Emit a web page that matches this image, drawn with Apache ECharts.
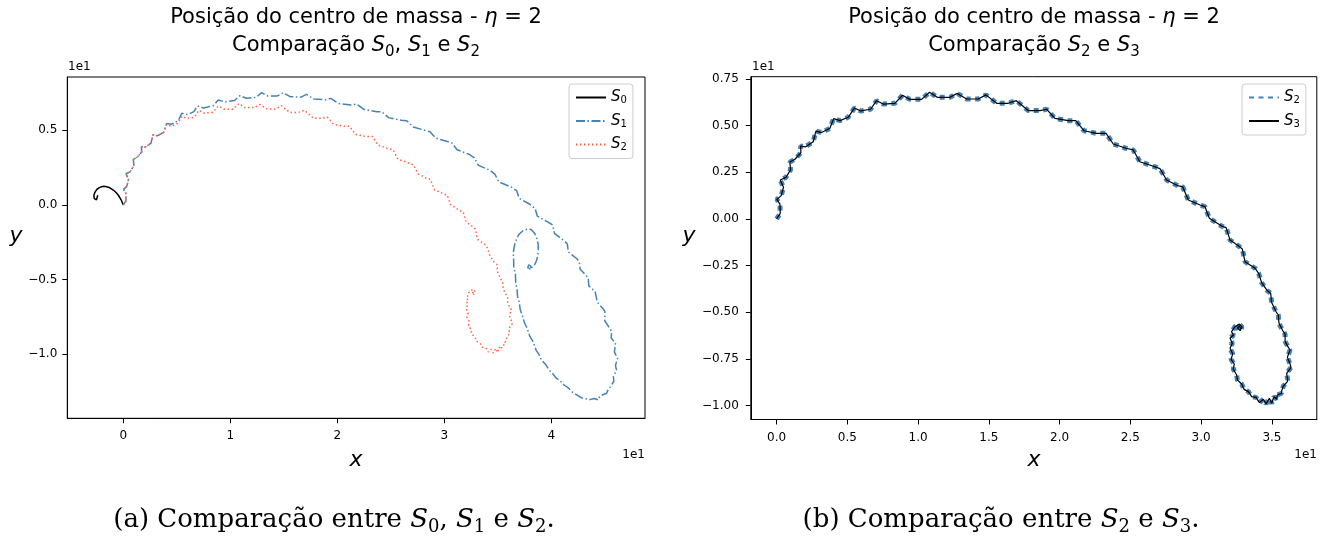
<!DOCTYPE html>
<html>
<head>
<meta charset="utf-8">
<script src="https://cdn.jsdelivr.net/npm/echarts@6/dist/echarts.min.js"></script>
<style>
html,body{margin:0;padding:0;background:#fff;}
#chart{width:1329px;height:538px;}
</style>
</head>
<body>
<div id="chart"></div>
<script>
// ---- Data (values in units of 1e1) ----
const s0Points = [
  [0,0],[-0.02,0.035],[-0.047,0.067],[-0.07,0.085],[-0.093,0.100],[-0.125,0.115],
  [-0.156,0.122],[-0.18,0.125],[-0.202,0.123],[-0.228,0.115],[-0.249,0.103],
  [-0.265,0.085],[-0.274,0.065],[-0.272,0.045],[-0.262,0.033],[-0.25,0.035],
  [-0.24,0.048],[-0.238,0.065]
];
const s1Points = [
  [0,0],[0.026,0.030],[0.024,0.080],
  [0.002,0.105],[0.033,0.125],[0.049,0.170],
  [0.026,0.209],[0.066,0.223],[0.099,0.263],
  [0.094,0.305],[0.130,0.320],[0.172,0.355],
  [0.170,0.391],[0.203,0.386],[0.259,0.414],
  [0.278,0.471],[0.318,0.463],[0.377,0.486],
  [0.405,0.545],[0.45,0.540],[0.515,0.565],
  [0.546,0.614],[0.60,0.605],[0.66,0.625],
  [0.692,0.663],[0.75,0.650],[0.84,0.665],
  [0.888,0.703],[0.95,0.690],[1.04,0.700],
  [1.091,0.732],[1.15,0.715],[1.24,0.720],
  [1.293,0.752],[1.35,0.730],[1.44,0.730],
  [1.495,0.752],[1.56,0.725],[1.66,0.722],
  [1.714,0.741],[1.78,0.710],[1.89,0.705],
  [1.940,0.714],[2.01,0.680],[2.13,0.670],
  [2.181,0.676],[2.25,0.640],[2.37,0.625],
  [2.415,0.625],[2.48,0.585],[2.60,0.567],
  [2.649,0.564],[2.71,0.522],[2.82,0.500],
  [2.866,0.491],[2.92,0.448],[3.03,0.425],
  [3.069,0.417],[3.12,0.370],[3.23,0.340],
  [3.278,0.317],[3.32,0.265],[3.43,0.232],
  [3.474,0.205],[3.51,0.155],[3.63,0.118],
  [3.677,0.096],[3.70,0.045],[3.80,0.005],
  [3.848,-0.022],[3.87,-0.075],[3.97,-0.115],
  [4.013,-0.134],[4.03,-0.190],[4.12,-0.240],
  [4.150,-0.261],[4.16,-0.315],[4.24,-0.360],
  [4.262,-0.379],[4.27,-0.430],[4.33,-0.475],
  [4.346,-0.491],[4.35,-0.540],[4.41,-0.580],
  [4.424,-0.591],[4.43,-0.650],[4.49,-0.700],
  [4.502,-0.714],[4.50,-0.775],[4.55,-0.830],
  [4.564,-0.848],[4.56,-0.890],[4.60,-0.925],
  [4.611,-0.937],[4.59,-0.985],[4.62,-1.025],
  [4.626,-1.037],[4.60,-1.075],[4.61,-1.105],
  [4.611,-1.116],[4.58,-1.150],[4.585,-1.180],
  [4.586,-1.193],[4.55,-1.220],[4.525,-1.245],
  [4.518,-1.260],[4.48,-1.270],[4.445,-1.290],
  [4.439,-1.305],[4.40,-1.295],[4.36,-1.303],
  [4.346,-1.316],[4.31,-1.295],[4.28,-1.290],
  [4.268,-1.301],[4.235,-1.270],[4.20,-1.255],
  [4.191,-1.265],[4.16,-1.225],[4.12,-1.205],
  [4.112,-1.216],[4.08,-1.175],[4.045,-1.158],
  [4.035,-1.167],[4.01,-1.125],[3.98,-1.105],
  [3.972,-1.116],[3.95,-1.070],[3.91,-1.040],
  [3.901,-1.049],[3.885,-1.000],[3.86,-0.975],
  [3.848,-0.982],[3.83,-0.915],[3.80,-0.880],
  [3.785,-0.881],[3.775,-0.825],[3.75,-0.790],
  [3.738,-0.792],[3.73,-0.740],[3.71,-0.700],
  [3.701,-0.703],[3.70,-0.650],[3.685,-0.612],
  [3.677,-0.614],[3.68,-0.560],[3.668,-0.522],
  [3.661,-0.524],[3.665,-0.460],[3.65,-0.420],
  [3.648,-0.360],[3.645,-0.323],[3.652,-0.285],[3.661,-0.256],[3.68,-0.22],
  [3.701,-0.194],[3.735,-0.172],[3.770,-0.163],[3.795,-0.160],[3.817,-0.167],
  [3.845,-0.19],[3.864,-0.223],[3.877,-0.26],[3.879,-0.301],[3.875,-0.335],
  [3.864,-0.368],[3.848,-0.395],[3.826,-0.413],[3.805,-0.425],[3.794,-0.430],
  [3.78,-0.42],[3.79,-0.40],[3.81,-0.41],[3.80,-0.435],[3.785,-0.425],[3.795,-0.415]
];
const s2Points = [
  [0,0],[0.026,0.030],[0.024,0.080],
  [0.002,0.105],[0.033,0.125],[0.049,0.170],
  [0.026,0.209],[0.066,0.223],[0.099,0.263],
  [0.094,0.305],[0.130,0.320],[0.172,0.355],
  [0.170,0.391],[0.203,0.386],[0.259,0.414],
  [0.278,0.471],[0.318,0.463],[0.377,0.486],
  [0.403,0.538],[0.448,0.527],[0.506,0.545],
  [0.551,0.595],[0.594,0.579],[0.664,0.588],
  [0.707,0.634],[0.754,0.616],[0.836,0.620],
  [0.890,0.663],[0.942,0.641],[1.025,0.641],
  [1.081,0.679],[1.135,0.652],[1.225,0.652],
  [1.277,0.673],[1.343,0.643],[1.425,0.643],
  [1.479,0.665],[1.555,0.620],[1.637,0.620],
  [1.694,0.634],[1.778,0.581],[1.861,0.581],
  [1.908,0.588],[1.967,0.539],[2.061,0.527],
  [2.114,0.527],[2.172,0.473],[2.261,0.459],
  [2.328,0.459],[2.379,0.402],[2.468,0.379],
  [2.520,0.370],[2.567,0.307],[2.657,0.284],
  [2.709,0.270],[2.756,0.209],[2.838,0.177],
  [2.869,0.173],[2.909,0.102],[2.992,0.075],
  [3.027,0.066],[3.058,0.004],[3.145,-0.038],
  [3.176,-0.046],[3.204,-0.113],[3.270,-0.148],
  [3.291,-0.161],[3.310,-0.229],[3.381,-0.264],
  [3.406,-0.291],[3.427,-0.341],[3.467,-0.384],
  [3.491,-0.398],[3.498,-0.448],[3.529,-0.497],
  [3.545,-0.514],[3.550,-0.559],[3.576,-0.598],
  [3.593,-0.616],[3.593,-0.657],[3.616,-0.688],
  [3.628,-0.702],[3.609,-0.741],[3.628,-0.777],
  [3.635,-0.795],[3.604,-0.827],[3.611,-0.859],
  [3.609,-0.872],[3.581,-0.895],[3.569,-0.920],
  [3.569,-0.934],[3.538,-0.943],
  [3.534,-0.966],[3.515,-0.952],
  [3.498,-0.988],[3.482,-0.961],
  [3.458,-0.991],[3.440,-0.966],
  [3.411,-0.984],[3.388,-0.956],
  [3.357,-0.952],[3.334,-0.925],
  [3.303,-0.913],[3.286,-0.884],
  [3.256,-0.863],[3.251,-0.836],
  [3.227,-0.805],[3.234,-0.777],
  [3.211,-0.752],[3.223,-0.723],
  [3.204,-0.693],[3.220,-0.666],
  [3.204,-0.639],[3.228,-0.622],
  [3.215,-0.604],[3.239,-0.577],[3.270,-0.563],[3.289,-0.580],[3.275,-0.598],
  [3.256,-0.584],[3.270,-0.573],[3.279,-0.588]
];
// S3 coincides with S2 everywhere in the picture
const s3Points = s2Points;

const leftXTicks = [0, 1, 2, 3, 4];
const leftYTicks = [-1.0, -0.5, 0.0, 0.5];
const rightXTicks = [0.0, 0.5, 1.0, 1.5, 2.0, 2.5, 3.0, 3.5];
const rightYTicks = [-1.0, -0.75, -0.5, -0.25, 0.0, 0.25, 0.5, 0.75];

// ---- Chart ----
const FONT = 'DejaVu Sans';
const minus = s => s.replace('-', '\u2212');
const chart = echarts.init(document.getElementById('chart'), null, {renderer: 'canvas'});

function axisCommon(ticks, fmt, margin) {
  return {
    type: 'value',
    splitLine: {show: false},
    axisLine: {show: true, onZero: false, lineStyle: {color: '#000', width: 1}},
    axisTick: {show: true, inside: false, length: 5, customValues: ticks, lineStyle: {color: '#000', width: 1}},
    axisLabel: {customValues: ticks, formatter: fmt, color: '#000', fontFamily: FONT, fontSize: 12, margin: margin, hideOverlap: false, showMinLabel: true, showMaxLabel: true}
  };
}

const titleRich = {
  n: {fontFamily: FONT, fontSize: 21, lineHeight: 28, color: '#000'},
  i: {fontFamily: FONT, fontStyle: 'italic', fontSize: 21, lineHeight: 28, color: '#000'},
  s: {fontFamily: FONT, fontSize: 15, lineHeight: 15, verticalAlign: 'bottom', color: '#000'}
};
const capRich = {
  n: {fontFamily: 'DejaVu Serif', fontSize: 26, lineHeight: 32, color: '#000'},
  i: {fontFamily: 'DejaVu Serif', fontStyle: 'italic', fontSize: 26, lineHeight: 32, color: '#000'},
  s: {fontFamily: 'DejaVu Serif', fontSize: 18, lineHeight: 18, verticalAlign: 'bottom', color: '#000'}
};
const legRich = {
  i: {fontFamily: FONT, fontStyle: 'italic', fontSize: 15, lineHeight: 16, color: '#000'},
  s: {fontFamily: FONT, fontSize: 10, lineHeight: 10, verticalAlign: 'bottom', color: '#000'}
};
const legendNames = {'S0': '{i|S}{s|0}', 'S1': '{i|S}{s|1}', 'S2a': '{i|S}{s|2}', 'S2b': '{i|S}{s|2}', 'S3': '{i|S}{s|3}'};

function txt(x, y, text, font, align, vAlign) {
  return {type: 'text', x: x, y: y, silent: true,
    style: {text: text, font: font, fill: '#000', align: align || 'center', verticalAlign: vAlign || 'middle'}};
}

const legendCommon = {
  orient: 'vertical', itemWidth: 30, itemHeight: 12, itemGap: 8, padding: [6, 6, 6, 6],
  borderColor: '#cccccc', borderWidth: 1, borderRadius: 3, backgroundColor: 'rgba(255,255,255,0.8)',
  formatter: n => legendNames[n], textStyle: {rich: legRich}, selectedMode: false,
  itemStyle: {opacity: 0}
};

const option = {
  animation: false,
  backgroundColor: '#fff',
  grid: [
    {left: 67.3, top: 77, width: 577.7, height: 341.3, show: true, borderColor: '#000', borderWidth: 1, backgroundColor: 'transparent'},
    {left: 750.8, top: 76.7, width: 566, height: 342.8, show: true, borderColor: '#000', borderWidth: 1, backgroundColor: 'transparent'}
  ],
  xAxis: [
    Object.assign(axisCommon(leftXTicks, v => String(Math.round(v)), 12), {gridIndex: 0, min: -0.523, max: 4.876}),
    Object.assign(axisCommon(rightXTicks, v => v.toFixed(1), 12), {gridIndex: 1, min: -0.182, max: 3.817})
  ],
  yAxis: [
    Object.assign(axisCommon(leftYTicks, v => minus(v.toFixed(1)), 10), {gridIndex: 0, min: -1.428, max: 0.857}),
    Object.assign(axisCommon(rightYTicks, v => minus(v.toFixed(2)), 12), {gridIndex: 1, min: -1.0745, max: 0.7625})
  ],
  legend: [
    Object.assign({}, legendCommon, {data: ['S0', 'S1', 'S2a'], left: 569, top: 84}),
    Object.assign({}, legendCommon, {data: ['S2b', 'S3'], left: 1242, top: 84})
  ],
  series: [
    {name: 'S0', type: 'line', xAxisIndex: 0, yAxisIndex: 0, data: s0Points, symbol: 'none', showSymbol: false,
      lineStyle: {color: '#000', width: 1.5}, itemStyle: {color: '#000'}},
    {name: 'S1', type: 'line', xAxisIndex: 0, yAxisIndex: 0, data: s1Points, symbol: 'none', showSymbol: false,
      lineStyle: {color: '#4682b4', width: 1.5, type: [9, 2.5, 1.5, 2.5]}, itemStyle: {color: '#4682b4'}},
    {name: 'S2a', type: 'line', xAxisIndex: 0, yAxisIndex: 0, data: s2Points, symbol: 'none', showSymbol: false,
      lineStyle: {color: '#ff6347', width: 1.5, type: [1.5, 2.5]}, itemStyle: {color: '#ff6347'}},
    {name: 'S2b', type: 'line', xAxisIndex: 1, yAxisIndex: 1, data: s2Points, symbol: 'none', showSymbol: false,
      lineStyle: {color: '#4682b4', width: 5, type: [5, 4.5]}, itemStyle: {color: '#4682b4'}},
    {name: 'S3', type: 'line', xAxisIndex: 1, yAxisIndex: 1, data: s3Points, symbol: 'none', showSymbol: false,
      lineStyle: {color: '#000', width: 1.2}, itemStyle: {color: '#000'}}
  ],
  graphic: [
    {type: 'text', x: 356, y: 4, silent: true, style: {
      text: '{n|Posição do centro de massa - }{i|η}{n| = 2}\n{n|Comparação }{i|S}{s|0}{n|, }{i|S}{s|1}{n| e }{i|S}{s|2}',
      rich: titleRich, align: 'center', verticalAlign: 'top'}},
    {type: 'text', x: 1034, y: 4, silent: true, style: {
      text: '{n|Posição do centro de massa - }{i|η}{n| = 2}\n{n|Comparação }{i|S}{s|2}{n| e }{i|S}{s|3}',
      rich: titleRich, align: 'center', verticalAlign: 'top'}},
    txt(356, 460, 'x', 'italic 22px "DejaVu Sans"'),
    txt(16, 236, 'y', 'italic 22px "DejaVu Sans"'),
    txt(1034, 460, 'x', 'italic 22px "DejaVu Sans"'),
    txt(689, 236, 'y', 'italic 22px "DejaVu Sans"'),
    txt(68, 67, '1e1', '12px "DejaVu Sans"', 'left'),
    txt(645, 455, '1e1', '12px "DejaVu Sans"', 'right'),
    txt(752, 67, '1e1', '12px "DejaVu Sans"', 'left'),
    txt(1317, 455, '1e1', '12px "DejaVu Sans"', 'right'),
    {type: 'text', x: 334, y: 520, silent: true, style: {
      text: '{n|(a) Comparação entre }{i|S}{s|0}{n|, }{i|S}{s|1}{n| e }{i|S}{s|2}{n|.}',
      rich: capRich, align: 'center', verticalAlign: 'middle'}},
    {type: 'text', x: 1001, y: 520, silent: true, style: {
      text: '{n|(b) Comparação entre }{i|S}{s|2}{n| e }{i|S}{s|3}{n|.}',
      rich: capRich, align: 'center', verticalAlign: 'middle'}}
  ]
};
chart.setOption(option);
</script>
</body>
</html>
